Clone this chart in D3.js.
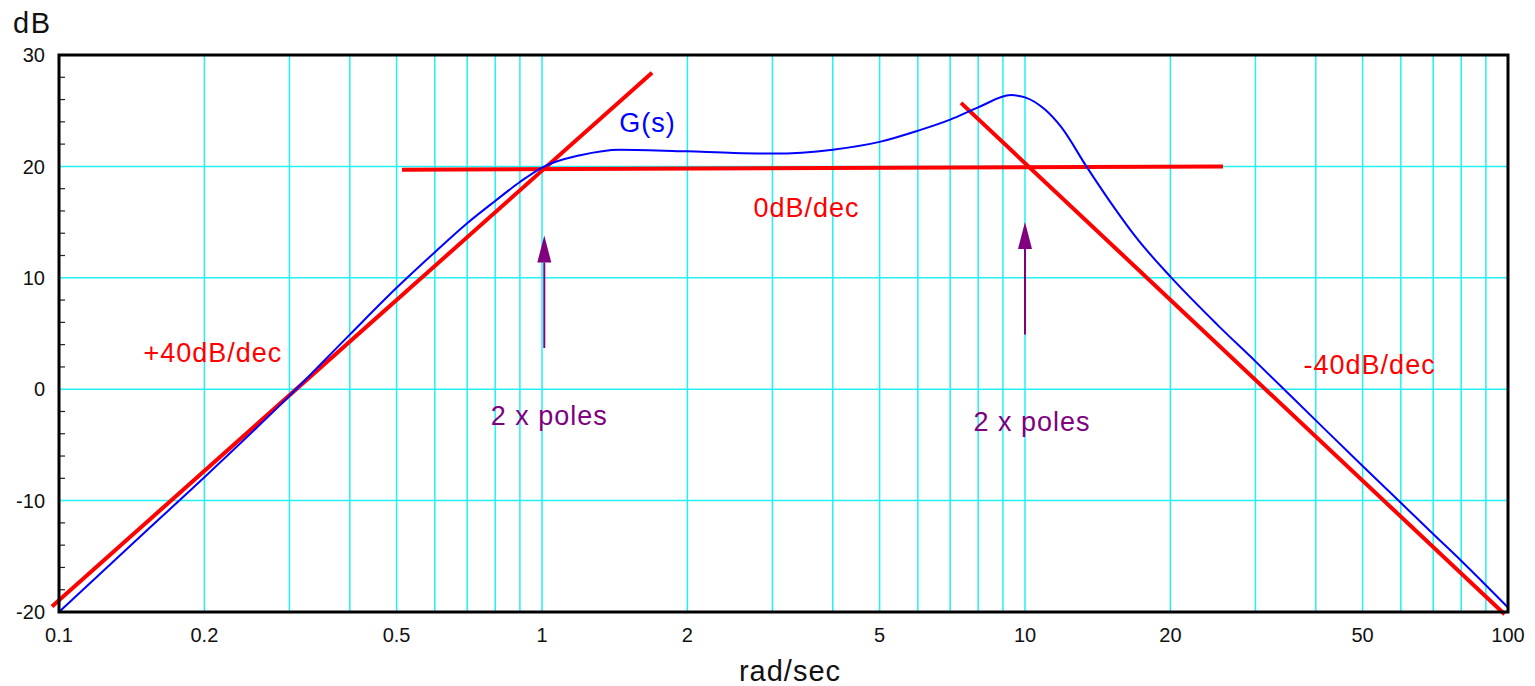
<!DOCTYPE html>
<html>
<head>
<meta charset="utf-8">
<script src="https://cdn.jsdelivr.net/npm/d3@7"></script>
<style>
  html, body { margin: 0; padding: 0; background: #fff; }
  svg { display: block; font-family: "Liberation Sans", Arial, Helvetica, sans-serif; }
</style>
</head>
<body>
<svg id="chart" width="1535" height="686"></svg>
<script>
// ---------- data ----------
const xTickValues = [0.1, 0.2, 0.5, 1, 2, 5, 10, 20, 50, 100];
const xTickLabels = ["0.1", "0.2", "0.5", "1", "2", "5", "10", "20", "50", "100"];
const yTickValues = [-20, -10, 0, 10, 20, 30];
const yTickLabels = ["-20", "-10", "0", "10", "20", "30"];

// G(s) magnitude
const gFreq = [0.1, 0.15, 0.2, 0.3, 0.4, 0.5, 0.6, 0.7, 0.8, 0.9, 1.0, 1.2, 1.45, 2.0, 2.5, 3.0, 4.0, 5.0, 6.0, 7.0, 8.0, 9.35, 10, 11, 11.9, 13.4, 15.3, 17, 20, 25, 30, 40, 50, 60, 70, 80, 90, 100];
const gDb   = [-20, -12.9, -7.9, -0.6, 4.9, 9.1, 12.3, 14.9, 16.9, 18.6, 19.9, 21.0, 21.5, 21.35, 21.2, 21.15, 21.5, 22.2, 23.2, 24.2, 25.3, 26.4, 26.2, 25.1, 23.5, 20.0, 16.3, 13.6, 10.1, 5.8, 2.5, -2.8, -6.9, -10.2, -13.0, -15.4, -17.6, -19.6];

// asymptote segments (hand-drawn red lines)
const asymRiseFreq = [0.0967, 1.69];
const asymRiseDb   = [-19.5, 28.4];
const asymFlatFreq = [0.513, 25.7];
const asymFlatDb   = [19.7, 20.0];
const asymFallFreq = [7.37, 98.4];
const asymFallDb   = [25.7, -20.2];

// annotations
const labelText = ["G(s)", "0dB/dec", "+40dB/dec", "-40dB/dec", "2 x poles", "2 x poles"];
const labelFreq = [1.653, 3.53, 0.2082, 51.7, 1.035, 10.34];
const labelDb   = [24.0, 16.3, 3.3, 2.2, -2.3, -2.85];
const labelKind = ["blue", "red", "red", "red", "purple", "purple"];

const arrowFreq  = [1.011, 10.0];
const arrowFromDb = [3.7, 4.9];
const arrowToDb   = [13.8, 15.0];

// ---------- drawing ----------
const svg = d3.select("#chart");
const x = d3.scaleLog().domain([0.1, 100]).range([59, 1508]);
const y = d3.scaleLinear().domain([-20, 30]).range([612, 55]);

const gridColor = "#22f0f4";
const colors = { blue: "#0000ff", red: "#ff0000", purple: "#800080" };

// vertical grid lines (1..9 per decade)
const vGrid = [];
[0.1, 1, 10].forEach(d => { for (let k = 1; k <= 9; k++) { const v = d * k; if (v > 0.1 && v < 100) vGrid.push(v); } });
svg.append("g").selectAll("line").data(vGrid).join("line")
  .attr("x1", d => x(d)).attr("x2", d => x(d))
  .attr("y1", y(30)).attr("y2", y(-20))
  .attr("stroke", gridColor).attr("stroke-width", 1.5);

// horizontal grid
svg.append("g").selectAll("line").data([-10, 0, 10, 20]).join("line")
  .attr("x1", x(0.1)).attr("x2", x(100))
  .attr("y1", d => y(d)).attr("y2", d => y(d))
  .attr("stroke", gridColor).attr("stroke-width", 1.5);

// minor y ticks every 2 dB, inside
const minor = d3.range(-18, 30, 2).filter(d => d % 10 !== 0);
svg.append("g").selectAll("line").data(minor).join("line")
  .attr("x1", x(0.1)).attr("x2", x(0.1) + 6)
  .attr("y1", d => y(d)).attr("y2", d => y(d))
  .attr("stroke", "#222").attr("stroke-width", 1.2);

// red asymptotes
const seg = (fs, ds) => fs.map((f, i) => [f, ds[i]]);
const lineGen = d3.line().x(d => x(d[0])).y(d => y(d[1]));
[seg(asymRiseFreq, asymRiseDb), seg(asymFlatFreq, asymFlatDb), seg(asymFallFreq, asymFallDb)].forEach(s => {
  svg.append("path").attr("d", lineGen(s)).attr("fill", "none")
    .attr("stroke", colors.red).attr("stroke-width", 4).attr("stroke-linecap", "butt");
});

// blue G(s) curve
const gPts = seg(gFreq, gDb);
svg.append("path")
  .attr("d", d3.line().x(d => x(d[0])).y(d => y(d[1])).curve(d3.curveMonotoneX)(gPts))
  .attr("fill", "none").attr("stroke", colors.blue).attr("stroke-width", 2);

// frame
svg.append("rect")
  .attr("x", x(0.1)).attr("y", y(30))
  .attr("width", x(100) - x(0.1)).attr("height", y(-20) - y(30))
  .attr("fill", "none").attr("stroke", "#000").attr("stroke-width", 3);

// tick labels
svg.append("g").selectAll("text").data(xTickValues).join("text")
  .attr("x", d => x(d)).attr("y", 642)
  .attr("text-anchor", "middle").attr("font-size", 20).attr("fill", "#111")
  .text((d, i) => xTickLabels[i]);
svg.append("g").selectAll("text").data(yTickValues).join("text")
  .attr("x", 45).attr("y", d => y(d)).attr("dy", "0.36em")
  .attr("text-anchor", "end").attr("font-size", 20).attr("fill", "#111")
  .text((d, i) => yTickLabels[i]);

// axis titles
svg.append("text").attr("x", 13).attr("y", 33).attr("font-size", 29)
  .attr("letter-spacing", 1.5).attr("fill", "#111").text("dB");
svg.append("text").attr("x", 790).attr("y", 681).attr("text-anchor", "middle").attr("font-size", 29)
  .attr("letter-spacing", 1).attr("fill", "#111").text("rad/sec");

// annotations
svg.append("g").selectAll("text").data(labelText).join("text")
  .attr("x", (d, i) => x(labelFreq[i])).attr("y", (d, i) => y(labelDb[i]))
  .attr("dy", "0.36em").attr("text-anchor", "middle")
  .attr("font-size", 27).attr("letter-spacing", 1)
  .attr("fill", (d, i) => colors[labelKind[i]])
  .text(d => d);

// arrows
arrowFreq.forEach((f, i) => {
  const ax = x(f), y0 = y(arrowFromDb[i]), y1 = y(arrowToDb[i]);
  const headLen = 27, headHalf = 7;
  svg.append("line").attr("x1", ax).attr("x2", ax).attr("y1", y0).attr("y2", y1 + headLen)
    .attr("stroke", colors.purple).attr("stroke-width", 2);
  svg.append("path")
    .attr("d", `M${ax},${y1} L${ax - headHalf},${y1 + headLen} L${ax + headHalf},${y1 + headLen} Z`)
    .attr("fill", colors.purple);
});
</script>
</body>
</html>
